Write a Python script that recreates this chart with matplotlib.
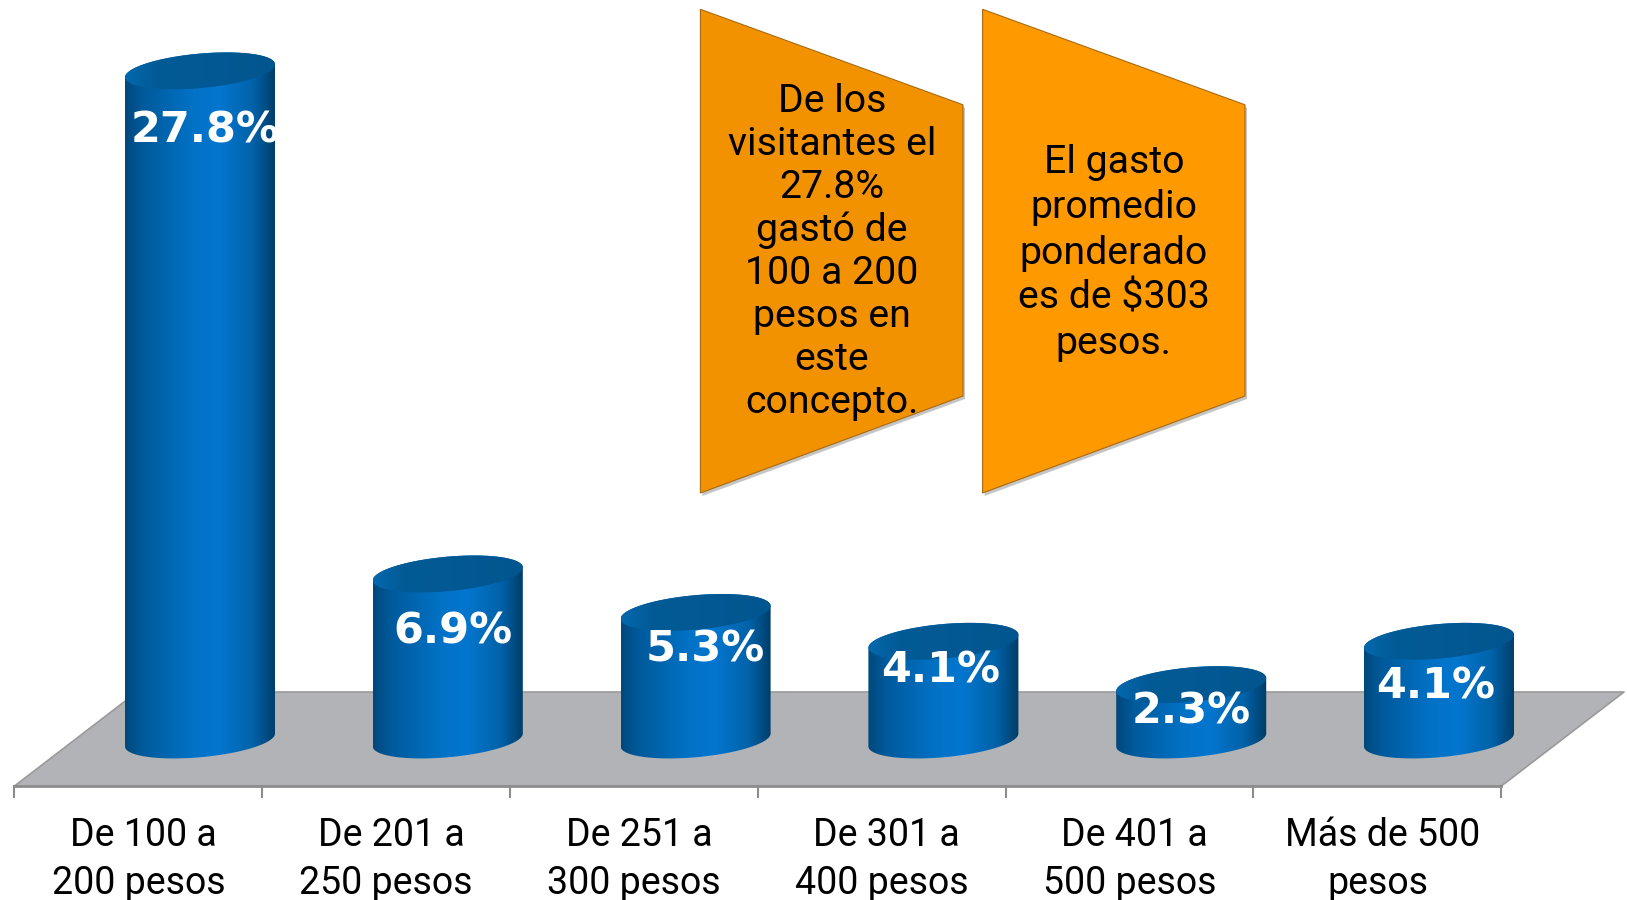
import numpy as np
import matplotlib
matplotlib.use("Agg")
import matplotlib.pyplot as plt
from matplotlib.colors import LinearSegmentedColormap
from matplotlib.patches import Polygon

categories = [("De 100 a", "200 pesos"), ("De 201 a", "250 pesos"), ("De 251 a", "300 pesos"),
              ("De 301 a", "400 pesos"), ("De 401 a", "500 pesos"), ("Más de 500", "pesos")]
values = [27.8, 6.9, 5.3, 4.1, 2.3, 4.1]
value_labels = ["27.8%", "6.9%", "5.3%", "4.1%", "2.3%", "4.1%"]
note_left = "De los\nvisitantes el\n27.8%\ngastó de\n100 a 200\npesos en\neste\nconcepto."
note_right = "El gasto\npromedio\nponderado\nes de $303\npesos."

W, H = 1627, 900
STEP = 247.8       # px per category
BAR_X0 = 200       # px centre of first cylinder
BASE_Y = 740       # px of the value 0
PX_PER_UNIT = 24.07
A, B, THETA = 75.3, 17.2, np.radians(5.2)
# hand placed labels in the original (px below top of each cylinder)
label_offsets = [(5, 60), (5, 58), (10, 37), (-3, 29), (0, 27), (-3, 45)]

plt.rcParams["font.family"] = ["Roboto", "DejaVu Sans"]
fig = plt.figure(figsize=(W / 100, H / 100), dpi=100)

# pixel axes for floor, ticks, notes
bg = fig.add_axes([0, 0, 1, 1])
bg.set_xlim(0, W)
bg.set_ylim(H, 0)
bg.axis("off")

floor = [(14.5, 786), (1501.4, 786), (1624, 692), (137, 692)]
bg.add_patch(Polygon(floor, closed=True, fc="#b1b3b6", ec="none"))
bg.plot([14.5, 137, 1624, 1501.4], [786, 692, 692, 786], color="#9a9a9a", lw=1.2)
bg.plot([14.5, 1501.4], [786, 786], color="#8c8c8c", lw=2)
for i in range(len(categories) + 1):
    x = 14.5 + STEP * i
    bg.plot([x, x], [786, 797], color="#8c8c8c", lw=1.5)

for i, lines in enumerate(categories):
    x = 14.5 + STEP * (i + 0.5)
    bg.text(x + 5, 836, lines[0], ha="center", va="center", fontsize=27, color="black")
    bg.text(x, 883, lines[1], ha="center", va="center", fontsize=27, color="black")


def note(x0, x1, color, text, cy, spacing):
    pts = [(x0, 9.3), (x1, 104.8), (x1, 396), (x0, 493)]
    shadow = [(px + 2, py + 3) for px, py in pts]
    bg.add_patch(Polygon(shadow, closed=True, fc="#808080", ec="none", alpha=0.45))
    bg.add_patch(Polygon(pts, closed=True, fc=color, ec="#a86a10", lw=0.8))
    bg.text((x0 + x1) / 2, cy, text, ha="center", va="center", fontsize=28.3, linespacing=spacing, color="black")


note(700.4, 963, "#f39200", note_left, 252, 1.2)
note(982.6, 1245, "#ff9900", note_right, 253, 1.29)

# data axes: x = category index, y = percent
ax = fig.add_axes([0, 0, 1, 1])
ax.patch.set_alpha(0)
ax.set_xlim(-BAR_X0 / STEP, (W - BAR_X0) / STEP)
ax.set_ylim(-(H - BASE_Y) / PX_PER_UNIT, BASE_Y / PX_PER_UNIT)
ax.axis("off")

body_cmap = LinearSegmentedColormap.from_list("body", [(0, "#00487c"), (0.12, "#005a9c"), (0.45, "#0272c6"),
                                                       (0.62, "#0476cf"), (0.85, "#0162a8"), (1, "#003c68")])
top_cmap = LinearSegmentedColormap.from_list("top", [(0, "#0468ae"), (0.2, "#025b96"), (1, "#025690")])


def ellipse(t):
    ex = A * np.cos(t) * np.cos(THETA) - B * np.sin(t) * np.sin(THETA)
    ey = A * np.cos(t) * np.sin(THETA) + B * np.sin(t) * np.cos(THETA)
    return ex / STEP, ey / PX_PER_UNIT


t_right = np.arctan2(-B * np.sin(THETA), A * np.cos(THETA))
t_all = np.linspace(0, 2 * np.pi, 200)
t_upper = np.linspace(t_right, t_right + np.pi, 100)
t_lower = np.linspace(t_right + np.pi, t_right + 2 * np.pi, 100)
half_w = np.sqrt((A * np.cos(THETA)) ** 2 + (B * np.sin(THETA)) ** 2) / STEP
ramp = np.linspace(0, 1, 256).reshape(1, -1)

for i, (v, lab) in enumerate(zip(values, value_labels)):
    ux, uy = ellipse(t_upper)
    lx, ly = ellipse(t_lower)
    outline = np.column_stack([np.r_[i + ux, i + lx], np.r_[v + uy, ly]])
    body = Polygon(outline, closed=True, transform=ax.transData, fc="none", ec="none")
    ax.add_patch(body)
    im = ax.imshow(ramp, cmap=body_cmap, aspect="auto", zorder=2,
                   extent=(i - half_w, i + half_w, -2, v + 2))
    im.set_clip_path(body)

    tx, ty = ellipse(t_all)
    cap = Polygon(np.column_stack([i + tx, v + ty]), closed=True, fc="none", ec="none", zorder=3)
    ax.add_patch(cap)
    im2 = ax.imshow(ramp, cmap=top_cmap, aspect="auto", zorder=3,
                    extent=(i - half_w, i + half_w, v - 2, v + 2))
    im2.set_clip_path(cap)

    dx, dy = label_offsets[i]
    ax.annotate(lab, xy=(i, v), xytext=(dx * 0.72, -dy * 0.72), textcoords="offset points",
                ha="center", va="center", color="white", fontsize=31, fontweight="bold",
                family="DejaVu Sans", zorder=5)

ax.set_xlim(-BAR_X0 / STEP, (W - BAR_X0) / STEP)
ax.set_ylim(-(H - BASE_Y) / PX_PER_UNIT, BASE_Y / PX_PER_UNIT)

fig.savefig("out.png", dpi=100)
